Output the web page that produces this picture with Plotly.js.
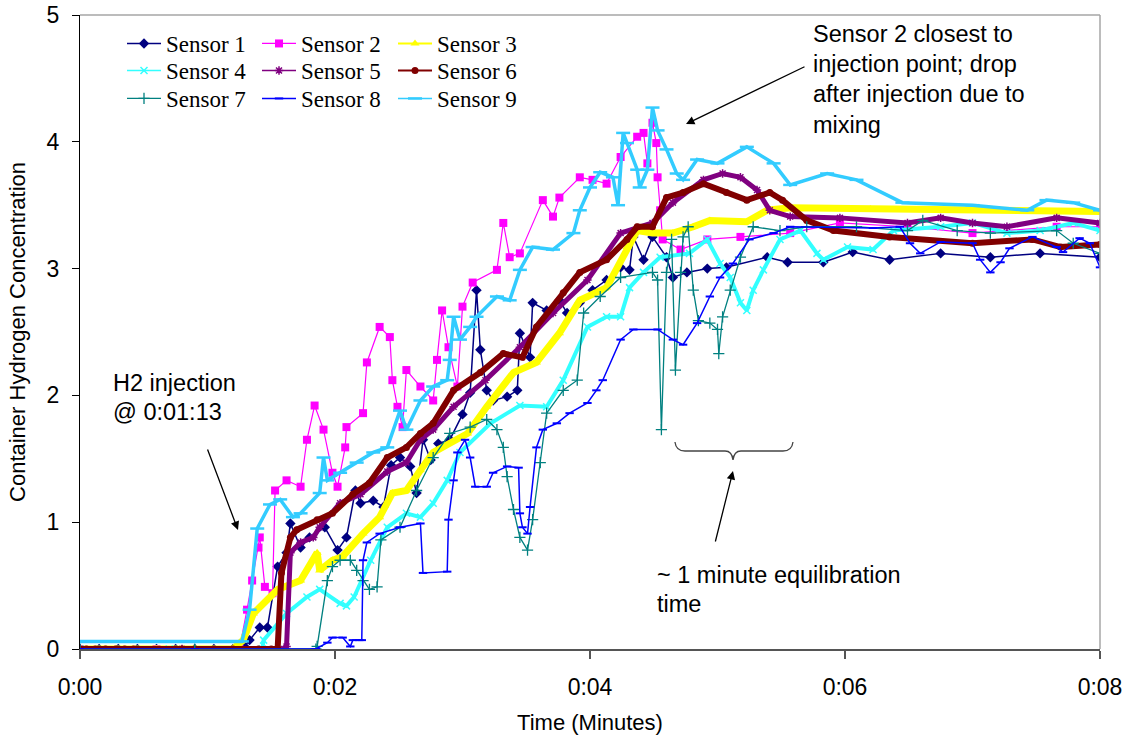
<!DOCTYPE html>
<html><head><meta charset="utf-8">
<script src="https://cdn.plot.ly/plotly-3.0.1.min.js"></script>
<style>html,body{margin:0;padding:0;background:#fff}#chart{width:1128px;height:740px}</style>
</head><body><div id="chart"></div>
<script>
const sensorNames = ['Sensor 1','Sensor 2','Sensor 3','Sensor 4','Sensor 5','Sensor 6','Sensor 7','Sensor 8','Sensor 9'];

const s1T = [0,0.15,0.3,0.45,0.6,0.75,0.9,1.05,1.2,1.29,1.33,1.41,1.47,1.55,1.62,1.65,1.73,1.80,1.92,2.02,2.09,2.16,2.20,2.30,2.38,2.44,2.51,2.59,2.64,2.69,2.75,2.81,2.90,3.00,3.06,3.11,3.14,3.19,3.24,3.35,3.43,3.45,3.53,3.55,3.66,3.76,3.82,3.92,4.02,4.13,4.24,4.31,4.34,4.42,4.49,4.60,4.65,4.76,4.92,5.07,5.39,5.55,5.83,6.06,6.35,6.75,7.14,7.53,8.00];
const s1V = [0,0,0,0,0,0,0,0,0,0.02,0.07,0.17,0.17,0.65,0.76,0.99,0.80,0.88,0.96,0.78,0.88,1.25,1.15,1.17,1.12,1.45,1.51,1.44,1.23,1.65,1.49,1.62,1.65,1.85,2.02,2.83,2.36,2.04,1.96,1.99,2.04,2.49,2.30,2.73,2.67,2.75,2.65,2.73,2.83,2.91,3.01,2.99,3.25,3.07,3.25,3.09,2.93,2.97,3.00,3.01,3.09,3.05,3.05,3.13,3.07,3.12,3.09,3.12,3.09];

const s2T = [0,0.6,1.25,1.31,1.35,1.40,1.41,1.45,1.51,1.53,1.62,1.73,1.78,1.84,1.91,1.98,2.02,2.08,2.09,2.22,2.25,2.35,2.43,2.45,2.49,2.53,2.56,2.67,2.77,2.80,2.84,2.89,2.96,3.00,3.08,3.27,3.32,3.37,3.45,3.63,3.71,3.76,3.92,4.02,4.13,4.24,4.37,4.42,4.45,4.49,4.52,4.53,4.55,4.57,4.71,4.92,5.18,5.57,5.96,6.49,7.00,7.66,8.00];
const s2V = [0,0,0,0.31,0.54,0.80,0.88,0.49,0.44,1.25,1.33,1.28,1.65,1.92,1.73,1.39,1.28,1.59,1.75,1.86,2.26,2.54,2.46,2.12,1.91,1.75,2.20,2.07,1.96,2.28,2.67,2.38,2.07,2.70,2.89,2.99,3.36,3.09,3.12,3.54,3.41,3.56,3.72,3.70,3.67,3.88,4.04,4.07,3.83,4.15,3.99,3.72,3.46,3.23,3.15,3.23,3.25,3.28,3.36,3.33,3.28,3.33,3.33];

const s3T = [0,0.6,1.2,1.28,1.36,1.55,1.73,1.86,1.88,1.98,2.06,2.22,2.35,2.45,2.56,2.67,2.77,3.04,3.19,3.40,3.58,3.76,3.92,4.13,4.29,4.37,4.49,4.65,4.81,4.94,5.23,5.39,5.57,6.2,7.00,8.00];
const s3V = [0,0,0,0.07,0.28,0.47,0.54,0.76,0.62,0.70,0.73,0.91,1.04,1.23,1.25,1.41,1.55,1.70,1.91,2.18,2.26,2.49,2.75,2.85,3.17,3.30,3.28,3.28,3.33,3.38,3.37,3.46,3.48,3.47,3.46,3.45];

const s4T = [0,0.7,1.43,1.44,1.62,1.78,1.88,2.04,2.09,2.15,2.28,2.41,2.56,2.67,2.77,2.88,2.98,3.22,3.45,3.66,3.79,3.98,4.13,4.24,4.31,4.42,4.55,4.78,4.92,5.02,5.10,5.18,5.23,5.28,5.36,5.49,5.65,5.78,5.83,6.02,6.22,6.38,6.75,7.00,7.27,7.53,7.79,8.00];
const s4V = [0,0,0,0.07,0.28,0.41,0.47,0.36,0.34,0.41,0.70,0.96,1.07,1.04,1.15,1.33,1.55,1.78,1.92,1.91,2.12,2.54,2.62,2.62,2.85,2.97,3.09,3.12,3.23,3.04,2.93,2.73,2.67,2.83,2.99,3.23,3.30,3.12,3.07,3.17,3.15,3.30,3.33,3.36,3.28,3.30,3.36,3.30];

const s5T = [0,0.8,1.6,1.62,1.65,1.73,1.83,1.88,2.04,2.20,2.41,2.56,2.67,2.77,2.93,3.18,3.45,3.71,3.98,4.24,4.49,4.65,4.89,5.04,5.18,5.31,5.41,5.57,5.96,6.49,6.75,7.00,7.27,7.66,8.00];
const s5V = [0,0,0,0.02,0.76,0.84,0.88,0.96,1.15,1.22,1.40,1.47,1.65,1.73,1.91,2.12,2.38,2.65,2.91,3.28,3.36,3.52,3.70,3.75,3.72,3.62,3.46,3.41,3.40,3.36,3.40,3.36,3.33,3.40,3.36];

const s6T = [0,0.05,0.12,0.2,0.28,0.35,0.42,0.8,1.2,1.4,1.5,1.55,1.58,1.65,1.70,1.86,1.98,2.14,2.27,2.41,2.56,2.67,2.77,2.93,3.14,3.32,3.47,3.58,3.79,3.92,4.13,4.29,4.37,4.49,4.60,4.73,4.89,5.07,5.23,5.41,5.51,5.70,5.91,6.35,7.00,7.47,7.69,8.00];
const s6V = [0,0,0,0,0,0,0,0,0,0,0,0,0.60,0.88,0.94,1.02,1.07,1.22,1.31,1.51,1.59,1.70,1.78,2.04,2.18,2.33,2.30,2.54,2.81,2.97,3.07,3.23,3.33,3.33,3.56,3.60,3.67,3.60,3.54,3.60,3.54,3.38,3.30,3.25,3.20,3.23,3.17,3.19];

const s7T = [0,0.9,1.85,1.86,1.94,1.98,2.04,2.12,2.17,2.22,2.27,2.33,2.36,2.51,2.64,2.77,2.90,3.06,3.19,3.27,3.32,3.35,3.40,3.45,3.51,3.55,3.61,3.66,3.79,3.90,3.95,4.08,4.24,4.49,4.53,4.56,4.60,4.64,4.67,4.71,4.73,4.77,4.81,4.85,4.94,5.00,5.01,5.04,5.10,5.18,5.28,5.49,5.70,6.09,6.49,6.61,6.88,7.14,7.66,7.79,8.00];
const s7V = [0,0,0,0.02,0.54,0.65,0.70,0.70,0.62,0.54,0.47,0.49,0.86,0.96,1.25,1.51,1.70,1.75,1.81,1.73,1.59,1.36,1.10,0.88,0.78,1.02,1.47,1.86,2.04,2.12,2.65,2.78,2.93,2.97,2.91,1.73,2.97,3.23,2.20,2.97,3.25,3.33,2.83,2.59,2.57,2.52,2.33,2.62,2.83,3.09,3.33,3.30,3.33,3.33,3.30,3.38,3.30,3.28,3.30,3.20,3.12];

const s8T = [0,0.9,1.85,1.94,1.98,2.06,2.12,2.14,2.19,2.21,2.22,2.25,2.35,2.51,2.67,2.69,2.88,2.89,2.93,2.96,3.02,3.06,3.10,3.19,3.24,3.35,3.44,3.45,3.47,3.51,3.53,3.58,3.63,3.74,3.84,3.98,4.05,4.10,4.24,4.34,4.53,4.65,4.73,4.84,4.94,5.02,5.12,5.25,5.44,5.57,6.22,6.43,6.51,6.59,6.75,7.00,7.06,7.14,7.22,7.29,7.47,7.66,7.71,7.84,7.92,8.00];
const s8V = [0,0,0,0.05,0.09,0.09,0.02,0.07,0.07,0.07,0.70,0.84,0.91,0.96,0.99,0.60,0.61,1.02,1.33,1.55,1.65,1.51,1.28,1.28,1.39,1.44,1.43,1.07,0.96,0.91,1.12,1.59,1.73,1.78,1.86,1.94,2.04,2.12,2.44,2.52,2.52,2.44,2.40,2.57,2.78,2.93,3.04,3.23,3.28,3.33,3.32,3.33,3.20,3.12,3.21,3.20,3.07,2.97,3.05,3.16,3.25,3.17,3.13,3.24,3.20,3.01];

const s9T = [0,0.4,0.8,1.27,1.33,1.39,1.49,1.57,1.67,1.73,1.88,1.91,1.94,2.04,2.17,2.30,2.41,2.51,2.56,2.67,2.77,2.88,2.90,2.93,2.98,3.06,3.11,3.27,3.37,3.45,3.55,3.71,3.87,3.92,4.00,4.08,4.18,4.22,4.26,4.29,4.37,4.39,4.45,4.49,4.53,4.60,4.68,4.73,4.84,5.00,5.23,5.44,5.57,5.86,6.09,6.45,7.00,7.43,7.58,7.79,8.00];
const s9V = [0.06,0.06,0.06,0.06,0.31,0.95,1.14,1.18,1.04,1.07,1.23,1.51,1.33,1.39,1.47,1.55,1.59,1.88,1.73,1.96,2.07,2.12,2.28,2.62,2.44,2.54,2.62,2.78,2.75,2.99,3.17,3.15,3.28,3.46,3.64,3.76,3.72,3.50,4.07,3.99,3.78,3.64,3.78,4.27,4.09,3.94,3.75,3.70,3.86,3.83,3.96,3.83,3.66,3.75,3.70,3.52,3.50,3.46,3.54,3.52,3.46];

const xTickVals = [0,2,4,6,8];
const xTickText = ['0:00','0:02','0:04','0:06','0:08'];
const yTickVals = [0,1,2,3,4,5];

const annotationLines = [
  ['Sensor 2 closest to','injection point; drop','after injection due to','mixing'],
  ['H2 injection','@ 0:01:13'],
  ['~ 1 minute equilibration','time']
];

const seriesT = [s1T,s2T,s3T,s4T,s5T,s6T,s7T,s8T,s9T];
const seriesV = [s1V,s2V,s3V,s4V,s5V,s6V,s7V,s8V,s9V];

const styles = [
  {color:'#000080', symbol:'diamond', msize:8, mline:0, width:1.5, band:0},
  {color:'#FF00FF', symbol:'square', msize:8, mline:0, width:1.2, band:0},
  {color:'#FFFF00', symbol:'triangle-up', msize:8, mline:0, width:2, band:7},
  {color:'#33FFFF', symbol:'x-thin-open', msize:7, mline:1.5, width:1.5, band:4},
  {color:'#800080', symbol:'asterisk-open', msize:7, mline:1.5, width:1.5, band:5},
  {color:'#800000', symbol:'circle', msize:7, mline:0, width:2, band:6},
  {color:'#008080', symbol:'cross-thin-open', msize:8, mline:1.3, width:1.3, band:0},
  {color:'#0000FF', symbol:'line-ew-open', msize:6, mline:2, width:1.5, band:0},
  {color:'#33CCFF', symbol:'line-ew-open', msize:10, mline:2.5, width:1.5, band:3.5}
];

// legend slot for each sensor: line start x (px) and row centre y (px)
const legendSlots = [[127,45],[262,45],[398,45],[127,72],[262,72],[398,72],[127,100],[262,100],[398,100]];

const traces = [];
sensorNames.forEach((name, i) => {
  const st = styles[i];
  if (st.band > 0) {
    traces.push({x: seriesT[i], y: seriesV[i], type:'scatter', mode:'lines', showlegend:false,
      hoverinfo:'skip', line:{color:st.color, width:st.band}});
  }
  const marker = {symbol:st.symbol, size:st.msize, color:st.color};
  if (st.mline > 0) marker.line = {color:st.color, width:st.mline};
  traces.push({x: seriesT[i], y: seriesV[i], type:'scatter', mode:'lines+markers', name:name,
    legend: i === 0 ? 'legend' : 'legend' + (i + 1), line:{color:st.color, width:st.width}, marker: marker});
});

const px2x = p => (p - 80) / 1020;
const py2y = p => (649 - p) / 634;
const sansFont = {family:'Liberation Sans, Arial, sans-serif', size:23, color:'#000'};
const annFont = {family:'Liberation Sans, Arial, sans-serif', size:23.5, color:'#000'};

const annotations = [];
const textBlocks = [
  {left:811, tops:[34,64,94,125], lines:annotationLines[0]},
  {left:111, tops:[383,412], lines:annotationLines[1]},
  {left:655, tops:[575,604], lines:annotationLines[2]}
];
textBlocks.forEach(b => b.lines.forEach((ln, k) => {
  annotations.push({text:ln, xref:'paper', yref:'paper', x:px2x(b.left), y:py2y(b.tops[k]),
    xanchor:'left', yanchor:'middle', showarrow:false, font:annFont});
}));
const arrows = [
  {hx:686, hy:124, tx:806, ty:66},
  {hx:238, hy:530, tx:207, ty:448},
  {hx:733, hy:471, tx:715, ty:543}
];
arrows.forEach(a => annotations.push({text:'', xref:'paper', yref:'paper', x:px2x(a.hx), y:py2y(a.hy),
  ax:a.tx - a.hx, ay:a.ty - a.hy, showarrow:true, arrowhead:2, arrowsize:1.3, arrowwidth:1.3, arrowcolor:'#000', standoff:0}));

const bracePts = [[675,442],[676,451],[685,451],[725,451],[732,451],[733,460],[734,451],[741,451],[783,451],[792,451],[793,442]];
const bp = bracePts.map(p => px2x(p[0]).toFixed(4) + ',' + py2y(p[1]).toFixed(4));
const bracePath = 'M' + bp[0] + ' Q' + bp[1] + ' ' + bp[2] + ' L' + bp[3] + ' Q' + bp[4] + ' ' + bp[5] +
  ' Q' + bp[6] + ' ' + bp[7] + ' L' + bp[8] + ' Q' + bp[9] + ' ' + bp[10];

const layout = {
  width:1128, height:740,
  margin:{l:80, r:28, t:15, b:91},
  paper_bgcolor:'#fff', plot_bgcolor:'#fff',
  showlegend:true,
  xaxis:{range:[0,8], tickmode:'array', tickvals:xTickVals, ticktext:xTickText, ticks:'outside', ticklen:8, tickwidth:1.5,
    tickcolor:'#555', showline:true, linecolor:'#555', linewidth:2, showgrid:false, zeroline:false,
    tickfont:sansFont, ticklabelstandoff:8,
    title:{text:'Time (Minutes)', font:{family:'Liberation Sans, Arial, sans-serif', size:22, color:'#000'}, standoff:16}},
  yaxis:{range:[0,5], tickmode:'array', tickvals:yTickVals, ticks:'outside', ticklen:7, tickcolor:'#000',
    showline:true, linecolor:'#000', linewidth:1, showgrid:false, zeroline:false,
    tickfont:sansFont, ticklabelstandoff:8,
    title:{text:'Container Hydrogen Concentration', font:{family:'Liberation Sans, Arial, sans-serif', size:22, color:'#000'}, standoff:14}},
  annotations: annotations,
  shapes:[
    {type:'line', xref:'paper', yref:'paper', x0:0, x1:1, y0:1, y1:1, line:{color:'#A6A6A6', width:1.5}},
    {type:'line', xref:'paper', yref:'paper', x0:1, x1:1, y0:0, y1:1, line:{color:'#A6A6A6', width:1.5}},
    {type:'path', xref:'paper', yref:'paper', path:bracePath, line:{color:'#444', width:1.3}}
  ]
};

legendSlots.forEach((s, i) => {
  const key = i === 0 ? 'legend' : 'legend' + (i + 1);
  layout[key] = {x:px2x(s[0] - 5), y:py2y(s[1] - 23), xanchor:'left', yanchor:'top', bgcolor:'rgba(0,0,0,0)', borderwidth:0,
    font:{family:'Liberation Serif, Times New Roman, serif', size:23, color:'#000'}, itemwidth:34, tracegroupgap:0};
});

Plotly.newPlot('chart', traces, layout, {displayModeBar:false, staticPlot:true});
</script>
</body></html>
